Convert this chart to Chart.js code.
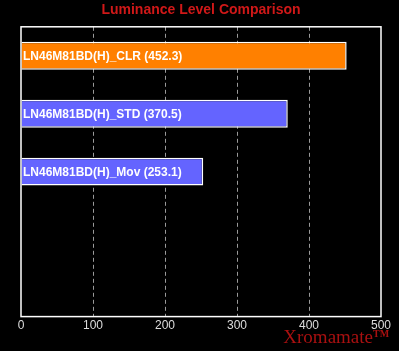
<!DOCTYPE html>
<html><head><meta charset="utf-8">
<script src="https://cdn.jsdelivr.net/npm/chart.js@4"></script>
<style>html,body{margin:0;padding:0;background:#000;}canvas{display:block;}</style>
</head><body>
<canvas id="c" width="399" height="351"></canvas>
<script>
const categories = ["LN46M81BD(H)_CLR", "LN46M81BD(H)_STD", "LN46M81BD(H)_Mov", "", ""];
const luminance = [452.3, 370.5, 253.1, null, null];
const barColors = ["#ff8000", "#6464ff", "#6464ff", "#6464ff", "#6464ff"];
const xTicks = [0, 100, 200, 300, 400, 500];
const titleText = "Luminance Level Comparison";
const watermark = "Xromamate";

const overlay = {
  id: 'overlay',
  afterDatasetsDraw(chart) {
    const ctx = chart.ctx, a = chart.chartArea;
    ctx.save();
    const meta = chart.getDatasetMeta(0);
    ctx.font = 'bold 12px "Liberation Sans", Arial, sans-serif';
    ctx.fillStyle = '#ffffff';
    ctx.textBaseline = 'middle';
    ctx.textAlign = 'left';
    meta.data.forEach((el, i) => {
      if (luminance[i] == null) return;
      ctx.fillText(categories[i] + ' (' + luminance[i].toFixed(1) + ')', a.left + 2, el.y + 1);
    });
    ctx.strokeStyle = '#ffffff';
    ctx.lineWidth = 1.5;
    ctx.strokeRect(a.left, a.top, a.right - a.left, a.bottom - a.top);
    ctx.restore();
  },
  afterDraw(chart) {
    const ctx = chart.ctx;
    ctx.save();
    ctx.fillStyle = '#a81010';
    ctx.font = '19px "Liberation Serif", "Times New Roman", serif';
    ctx.textAlign = 'right';
    ctx.textBaseline = 'alphabetic';
    ctx.fillText(watermark, 373, 343);
    ctx.font = 'bold 10px "Liberation Serif", serif';
    ctx.textAlign = 'left';
    ctx.fillText('TM', 373, 337);
    ctx.restore();
  }
};

const bg = {
  id: 'bg',
  beforeDraw(chart) {
    const ctx = chart.ctx;
    ctx.save();
    ctx.fillStyle = '#000';
    ctx.fillRect(0, 0, chart.width, chart.height);
    ctx.restore();
  }
};

new Chart(document.getElementById('c'), {
  type: 'bar',
  data: {
    labels: categories,
    datasets: [{
      data: luminance,
      backgroundColor: barColors,
      borderColor: '#ffffff',
      borderWidth: 1.5,
      borderSkipped: 'start',
      categoryPercentage: 1.0,
      barPercentage: 0.48
    }]
  },
  options: {
    indexAxis: 'y',
    responsive: false,
    animation: false,
    layout: { padding: { left: 21, right: 18, top: 0, bottom: 16 } },
    plugins: {
      legend: { display: false },
      tooltip: { enabled: false },
      title: {
        display: true,
        text: titleText,
        color: '#d01818',
        font: { family: '"Liberation Sans", Arial, sans-serif', size: 14, weight: 'bold' },
        padding: { top: 2, bottom: 8 }
      }
    },
    scales: {
      x: {
        min: 0, max: 500,
        afterBuildTicks(scale) { scale.ticks = xTicks.map(v => ({ value: v })); },
        ticks: {
          color: '#dddddd',
          font: { family: '"Liberation Sans", Arial, sans-serif', size: 12 },
          padding: 2
        },
        grid: {
          color: (c) => (c.index === 0 || c.index === xTicks.length - 1) ? 'rgba(0,0,0,0)' : '#9a9a9a',
          lineWidth: 1,
          drawTicks: false
        },
        border: { display: false, dash: [4, 3] }
      },
      y: {
        display: true,
        ticks: { display: false },
        grid: { display: false, drawTicks: false },
        border: { display: false }
      }
    }
  },
  plugins: [bg, overlay]
});
</script>
</body></html>
